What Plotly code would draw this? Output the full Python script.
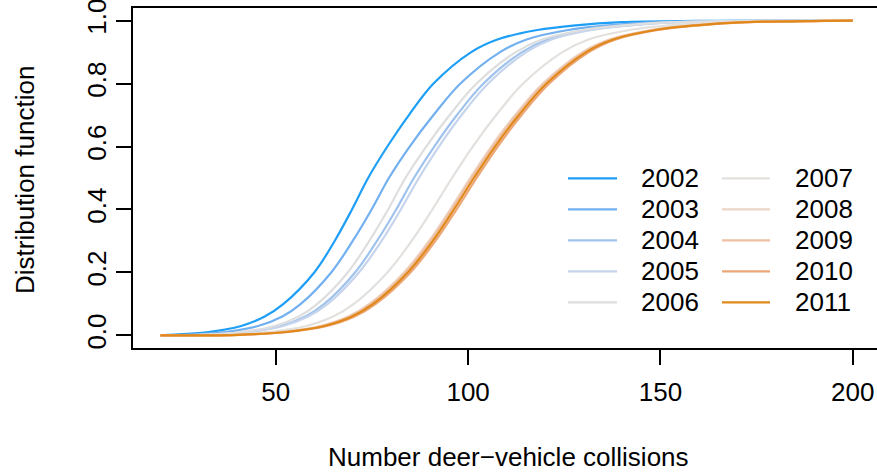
import plotly.graph_objects as go

# ---- data ----
years = [2002, 2003, 2004, 2005, 2006, 2007, 2008, 2009, 2010, 2011]
colors = ["#1E9FF5", "#72B0F0", "#A0C3EE", "#C6D4EC", "#DEDEDE",
          "#E3E0DD", "#EDD5C7", "#EEC0A2", "#ECA778", "#E0881A"]

# cumulative probability levels
probs = [0, 0.002, 0.01, 0.03, 0.06, 0.1, 0.2, 0.3, 0.4, 0.5, 0.6, 0.7,
         0.8, 0.9, 0.94, 0.97, 0.985, 0.995, 0.999, 1]

# number of collisions at which each year's distribution function reaches probs
q2002 = [20, 22.0, 32.0, 41.0, 47.1, 52.0, 60.0, 65.3, 69.8, 74.0, 79.0, 84.6, 91.0, 100.8, 107.6, 118.0, 128.0, 140.0, 159.0, 200]
q2003 = [20, 25.8, 36.1, 45.4, 51.7, 56.5, 64.4, 70.0, 74.9, 79.4, 84.8, 91.0, 98.0, 108.3, 115.2, 126.0, 136.6, 149.4, 169.5, 200]
q2004 = [20, 31.3, 41.8, 51.3, 57.7, 62.6, 70.6, 76.3, 81.3, 85.9, 91.2, 97.1, 104.0, 114.0, 120.7, 131.2, 141.5, 153.9, 173.5, 200]
q2005 = [20, 31.6, 42.3, 51.9, 58.4, 63.5, 71.6, 77.5, 82.5, 87.2, 92.4, 98.3, 105.2, 115.1, 121.7, 132.1, 142.3, 154.5, 173.9, 200]
q2006 = [20, 30.1, 40.4, 49.7, 56.0, 60.8, 68.7, 74.3, 79.2, 83.7, 89.1, 95.2, 102.2, 112.4, 119.2, 129.9, 140.4, 153.0, 173.0, 200]
q2007 = [20, 36.0, 47.5, 57.9, 64.9, 70.3, 79.0, 85.3, 90.7, 95.8, 101.2, 107.3, 114.3, 124.5, 131.3, 142.0, 152.5, 165.1, 185.1, 200]
q2008 = [20, 39.1, 51.0, 61.6, 68.8, 74.3, 83.3, 89.8, 95.3, 100.5, 106.0, 112.2, 119.4, 129.7, 136.7, 147.6, 158.3, 171.1, 191.5, 200]
q2009 = [20, 39.5, 51.3, 62.0, 69.2, 74.7, 83.7, 90.2, 95.7, 100.9, 106.4, 112.6, 119.8, 130.1, 137.1, 148.0, 158.7, 171.5, 191.9, 200]
q2010 = [20, 40.8, 52.6, 63.3, 70.5, 76.0, 85.0, 91.5, 97.0, 102.2, 107.7, 113.9, 121.1, 131.4, 138.4, 149.3, 160.0, 172.8, 193.2, 200]
q2011 = [20, 40.1, 52.0, 62.6, 69.8, 75.3, 84.3, 90.8, 96.3, 101.5, 107.0, 113.2, 120.4, 130.7, 137.7, 148.6, 159.3, 172.1, 192.5, 200]

x_ticks = [50, 100, 150, 200]
x_ticklabels = ["50", "100", "150", "200"]
y_ticks = [0, 0.2, 0.4, 0.6, 0.8, 1.0]
y_ticklabels = ["0.0", "0.2", "0.4", "0.6", "0.8", "1.0"]
x_title = "Number deer\u2212vehicle collisions"
y_title = "Distribution function"

quantiles = [q2002, q2003, q2004, q2005, q2006, q2007, q2008, q2009, q2010, q2011]

FONT = "Liberation Sans, Arial, Helvetica, sans-serif"
FS = 26

fig = go.Figure()
for yr, col, q in zip(years, colors, quantiles):
    fig.add_trace(go.Scatter(
        x=q, y=probs, mode="lines", name=str(yr),
        line=dict(color=col, width=2.2, shape="spline", smoothing=1.0),
        showlegend=False, hoverinfo="skip"))

# manual two-column legend (R style, no box)
W, H, L, T, B = 877, 473, 133, 8, 125
pw = W - L
ph = H - T - B
def px2paper_x(px):
    return (px - L) / pw
def py2paper_y(py):
    return (H - B - py) / ph

row_py = [178.3, 209.3, 240.3, 271.3, 302.3]
col_line = [(568, 617), (722, 770)]
col_text = [639, 793]
shapes = []
annotations = []
for i, (yr, col) in enumerate(zip(years, colors)):
    c, r = divmod(i, 5)
    yy = py2paper_y(row_py[r])
    shapes.append(dict(type="line", xref="paper", yref="paper",
                       x0=px2paper_x(col_line[c][0]), x1=px2paper_x(col_line[c][1]),
                       y0=yy, y1=yy, line=dict(color=col, width=2.2)))
    annotations.append(dict(text=str(yr), xref="paper", yref="paper",
                            x=px2paper_x(col_text[c]), y=yy, xanchor="left", yanchor="middle",
                            showarrow=False, font=dict(size=FS, color="black", family=FONT)))

annotations.append(dict(text=x_title, xref="paper", yref="paper",
                        x=px2paper_x(508), y=py2paper_y(457), xanchor="center", yanchor="middle",
                        showarrow=False, font=dict(size=FS, color="black", family=FONT)))
annotations.append(dict(text=y_title, xref="paper", yref="paper", textangle=-90,
                        x=px2paper_x(25), y=py2paper_y(180), xanchor="center", yanchor="middle",
                        showarrow=False, font=dict(size=FS, color="black", family=FONT)))

fig.update_layout(
    width=W, height=H, autosize=False,
    margin=dict(l=L, r=0, t=T, b=B, pad=0),
    paper_bgcolor="white", plot_bgcolor="white",
    font=dict(family=FONT, size=FS, color="black"),
    shapes=shapes, annotations=annotations,
    xaxis=dict(range=[12.87, 206.3], tickvals=x_ticks, ticktext=x_ticklabels,
               ticks="outside", ticklen=15, tickwidth=1.5, tickcolor="black",
               showline=True, linecolor="black", linewidth=1.5, mirror=True,
               showgrid=False, zeroline=False, ticklabelstandoff=5,
               ticklabeloverflow="allow",
               tickfont=dict(size=FS, family=FONT, color="black")),
    yaxis=dict(range=[-0.04, 1.04], tickvals=y_ticks, ticktext=y_ticklabels,
               ticks="outside", ticklen=15, tickwidth=1.5, tickcolor="black",
               showline=True, linecolor="black", linewidth=1.5, mirror=False,
               showgrid=False, zeroline=False, tickangle=-90, ticklabelstandoff=0,
               ticklabeloverflow="allow",
               tickfont=dict(size=FS, family=FONT, color="black")),
)

fig.write_html("out.html", config={"displayModeBar": False},
               post_script="document.body.style.margin='0px';document.body.style.overflow='hidden';")
